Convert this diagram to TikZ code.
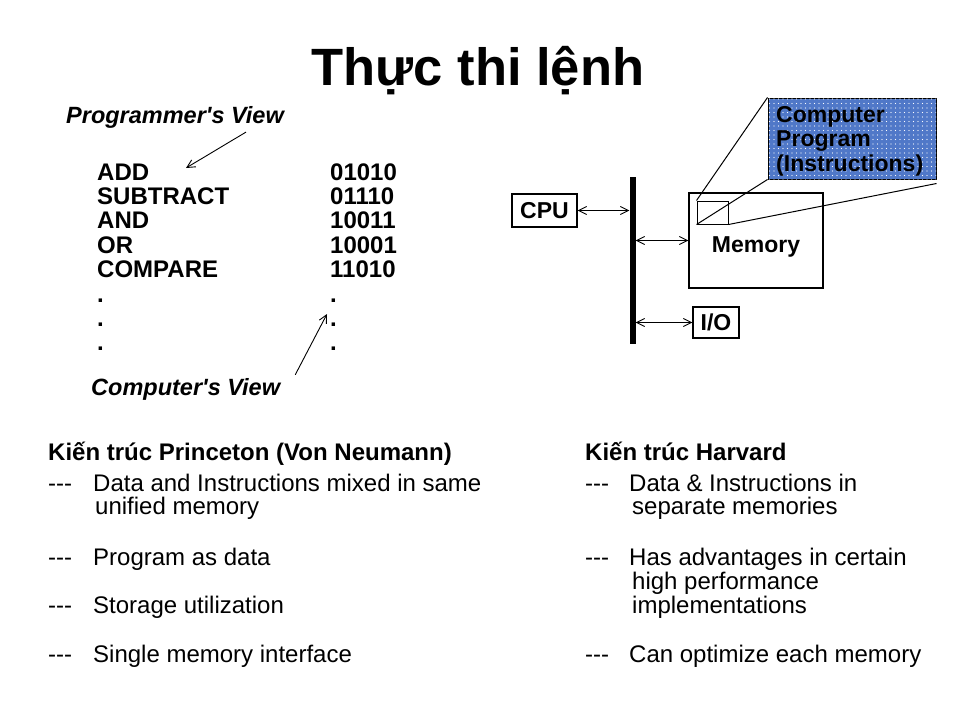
\documentclass[tikz,border=0pt]{standalone}
\usepackage{fontspec}
\setmainfont{Liberation Sans}
\usetikzlibrary{arrows.meta,patterns.meta}
\definecolor{progblue}{RGB}{80,120,200}
\newcommand{\tridash}{\hbox{-}\hbox{-}\hbox{-}}

\begin{document}
\begin{tikzpicture}
    [
        x=1pt, y=-1pt,
        txt/.style={anchor=base west, inner sep=0pt, font=\fontsize{24}{28}\selectfont},
        bold/.style={txt, font=\fontsize{24}{28}\selectfont\bfseries},
        view/.style={txt, font=\fontsize{23.5}{28}\selectfont\bfseries\itshape},
        box/.style={rectangle, draw=black, line width=1.3pt, inner sep=0pt, font=\fontsize{23}{26}\selectfont\bfseries},
        progbox/.style={rectangle, draw=black, line width=1pt, fill=progblue,
            postaction={pattern={Dots[distance=4.5pt,radius=0.55pt]}, pattern color=white},
            minimum width=168pt, minimum height=81pt},
        progtext/.style={anchor=north west, inner sep=0pt, align=left, font=\fontsize{23}{24.2}\selectfont\bfseries},
        arrow/.style={-{Straight Barb[length=8pt,width=8pt]}, line width=0.9pt},
        dblarrow/.style={{Straight Barb[length=8pt,width=8pt]}-{Straight Barb[length=8pt,width=8pt]}, line width=0.9pt}
    ]
    \useasboundingbox (0,0) rectangle (960,720);

    % Title
    \node[anchor=base, inner sep=0pt, font=\fontsize{52.5}{60}\selectfont\bfseries] (title) at (478,85) {Thực thi lệnh};

    % Views
    \node[view] (pview) at (66,123) {Programmer\textquotesingle s View};
    \node[view] (cview) at (91,395) {Computer\textquotesingle s View};
    \foreach \op/\code [count=\i] in {ADD/01010, SUBTRACT/01110, AND/10011, OR/10001, COMPARE/11010, ./., ./., ./.} {
        \node[bold] (op\i) at (97,{180+24.4*(\i-1)}) {\op};
        \node[bold] (code\i) at (330,{180+24.4*(\i-1)}) {\code};
    }
    \coordinate (ptip) at (186,168);
    \coordinate (ctip) at (327,314);
    \draw[arrow] ([xshift=-38pt,yshift=-4pt]pview.south east) -- (ptip);
    \draw[arrow] ([xshift=15pt,yshift=3pt]cview.north east) -- (ctip);

    % Machine
    \node[box, minimum width=65pt, minimum height=33pt] (cpu) at (544.5,210.5) {CPU};
    \node[fill=black, inner sep=0pt, minimum width=6pt, minimum height=167pt] (bus) at (632.5,260.5) {};
    \node[box, minimum width=134pt, minimum height=95pt] (mem) at (756,240.5) {};
    \node[anchor=base, inner sep=0pt, font=\fontsize{23}{26}\selectfont\bfseries] (memtext) at (756,252) {Memory};
    \node[box, line width=1pt, minimum width=31pt, minimum height=23pt] (prog) at (712.5,212.5) {};
    \node[box, minimum width=46pt, minimum height=31pt] (io) at (716,322.5) {I/O};
    \node[progbox] (program) at (852,138.5) {};
    \node[progtext] (progtext) at (776,106.5) {Computer\\Program\\(Instructions)};

    % Arrows
    \draw[dblarrow] (cpu.east) -- (cpu.east -| bus.west);
    \draw[dblarrow] (mem.west -| bus.east) -- (mem.west);
    \draw[dblarrow] (io.west -| bus.east) -- (io.west);
    \draw[line width=1pt] (prog.north west) -- (program.north west);
    \draw[line width=1pt] (prog.south west) -- (program.south west);
    \draw[line width=1pt] (prog.south east) -- ([yshift=-4pt]program.south east);

    % Princeton
    \node[bold] (vnhead) at (48,460) {Kiến trúc Princeton (Von Neumann)};
    \node[txt] (vndash1) at (48,491) {\tridash};
    \node[txt] (vn1) at (93,491) {Data and Instructions mixed in same};
    \node[txt] (vn1b) at (95,514) {unified memory};
    \node[txt] (vndash2) at (48,565) {\tridash};
    \node[txt] (vn2) at (93,565) {Program as data};
    \node[txt] (vndash3) at (48,613) {\tridash};
    \node[txt] (vn3) at (93,613) {Storage utilization};
    \node[txt] (vndash4) at (48,662) {\tridash};
    \node[txt] (vn4) at (93,662) {Single memory interface};

    % Harvard
    \node[bold] (hvhead) at (585,460) {Kiến trúc Harvard};
    \node[txt] (hvdash1) at (585,491) {\tridash};
    \node[txt] (hv1) at (629,491) {Data \& Instructions in};
    \node[txt] (hv1b) at (632,514) {separate memories};
    \node[txt] (hvdash2) at (585,565) {\tridash};
    \node[txt] (hv2) at (629,565) {Has advantages in certain};
    \node[txt] (hv2b) at (632,589) {high performance};
    \node[txt] (hv2c) at (632,613) {implementations};
    \node[txt] (hvdash3) at (585,662) {\tridash};
    \node[txt] (hv3) at (629,662) {Can optimize each memory};
\end{tikzpicture}
\end{document}
